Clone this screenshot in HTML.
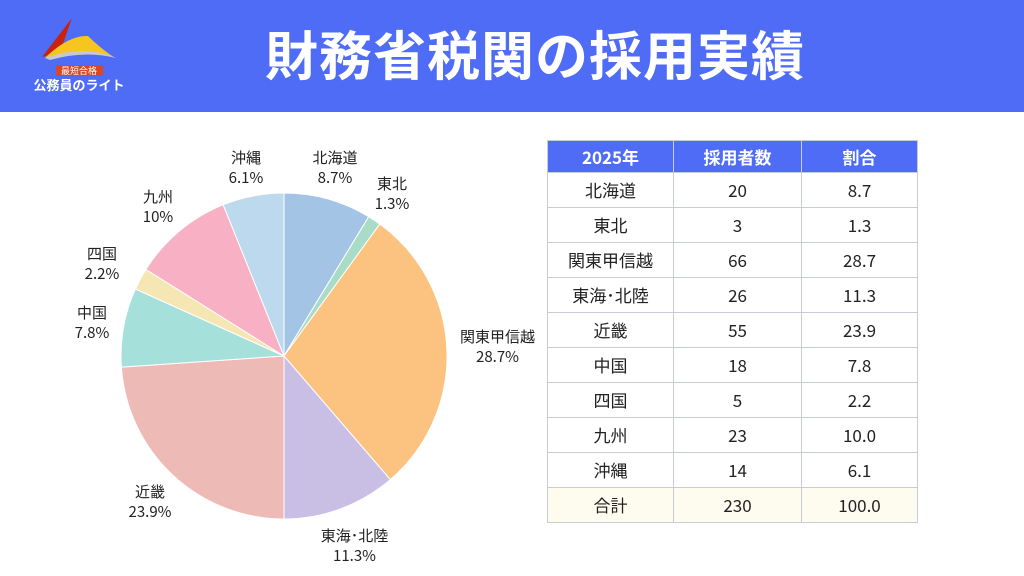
<!DOCTYPE html>
<html><head><meta charset="utf-8"><style>
body{margin:0;width:1024px;height:576px;background:#fff;font-family:"Noto Sans CJK JP","Liberation Sans",sans-serif;position:relative;overflow:hidden}
.hdr{position:absolute;left:0;top:0;width:1024px;height:112px;background:#4f6cf7}
.title{position:absolute;left:0;width:1070px;top:18px;text-align:center;color:#fff;font-size:53px;line-height:70px;font-weight:bold;letter-spacing:1px}
table{position:absolute;left:547px;top:140px;border-collapse:collapse;font-size:17px;color:#222}
td,th{border:1px solid #c8ccd4;text-align:center;height:34px;padding:0;line-height:20px}
th{background:#4f6cf7;color:#fff;font-weight:bold;height:31px;font-size:17px}
.lbl{position:absolute;font-size:15px;color:#222;text-align:center;line-height:20px}
</style></head><body>
<div class="hdr"></div>
<svg style="position:absolute;left:0;top:0" width="140" height="100">
<path d="M72 18 L42 57 L60 52 Z" fill="#c8230f"/>
<path d="M48 55 Q70 35 88 36 Q100 48 115 58 Q90 46 45 58 Z" fill="#f7c520"/>
<path d="M45 58 Q85 44 116 58 Q85 50 50 60 Z" fill="#c9c9c9"/>
<rect x="56" y="65" width="47" height="11" fill="#d5482c"/>
<text x="79" y="74" font-size="9" fill="#fff" text-anchor="middle" font-family="Noto Sans CJK JP">最短合格</text>
<text x="79" y="90" font-size="13" fill="#fff" text-anchor="middle" font-weight="bold" font-family="Noto Sans CJK JP">公務員のライト</text>
</svg>
<div class="title">財務省税関の採用実績</div>
<svg style="position:absolute;left:0;top:0" width="540" height="576">
<g stroke="#fff" stroke-width="1">
<path d="M284 356 L284 193 A163 163 0 0 1 368.7 216.7 Z" fill="#a3c4e4"/>
<path d="M284 356 L368.7 216.7 A163 163 0 0 1 379.8 224.1 Z" fill="#a8dcc8"/>
<path d="M284 356 L379.8 224.1 A163 163 0 0 1 390.3 479.6 Z" fill="#fcc27f"/>
<path d="M284 356 L390.3 479.6 A163 163 0 0 1 284 519 Z" fill="#c9bfe4"/>
<path d="M284 356 L284 519 A163 163 0 0 1 121.4 367.1 Z" fill="#eebab6"/>
<path d="M284 356 L121.4 367.1 A163 163 0 0 1 135.4 289 Z" fill="#a6e0da"/>
<path d="M284 356 L135.4 289 A163 163 0 0 1 145.9 269.4 Z" fill="#f6e6b4"/>
<path d="M284 356 L145.9 269.4 A163 163 0 0 1 223.2 204.8 Z" fill="#f8b0c4"/>
<path d="M284 356 L223.2 204.8 A163 163 0 0 1 284 193 Z" fill="#bcd9ee"/>
</g></svg>
<div class="lbl" style="left:305px;top:148px;width:60px">北海道<br>8.7%</div>
<div class="lbl" style="left:362px;top:174px;width:60px">東北<br>1.3%</div>
<div class="lbl" style="left:450px;top:327px;width:95px">関東甲信越<br>28.7%</div>
<div class="lbl" style="left:307px;top:526px;width:95px">東海･北陸<br>11.3%</div>
<div class="lbl" style="left:120px;top:482px;width:60px">近畿<br>23.9%</div>
<div class="lbl" style="left:62px;top:303px;width:60px">中国<br>7.8%</div>
<div class="lbl" style="left:72px;top:244px;width:60px">四国<br>2.2%</div>
<div class="lbl" style="left:128px;top:187px;width:60px">九州<br>10%</div>
<div class="lbl" style="left:216px;top:148px;width:60px">沖縄<br>6.1%</div>
<table>
<tr><th style="width:125px">2025年</th><th style="width:127px">採用者数</th><th style="width:115px">割合</th></tr>
<tr><td>北海道</td><td>20</td><td>8.7</td></tr>
<tr><td>東北</td><td>3</td><td>1.3</td></tr>
<tr><td>関東甲信越</td><td>66</td><td>28.7</td></tr>
<tr><td>東海･北陸</td><td>26</td><td>11.3</td></tr>
<tr><td>近畿</td><td>55</td><td>23.9</td></tr>
<tr><td>中国</td><td>18</td><td>7.8</td></tr>
<tr><td>四国</td><td>5</td><td>2.2</td></tr>
<tr><td>九州</td><td>23</td><td>10.0</td></tr>
<tr><td>沖縄</td><td>14</td><td>6.1</td></tr>
<tr style="background:#fdfcef"><td>合計</td><td>230</td><td>100.0</td></tr>
</table>
</body></html>
